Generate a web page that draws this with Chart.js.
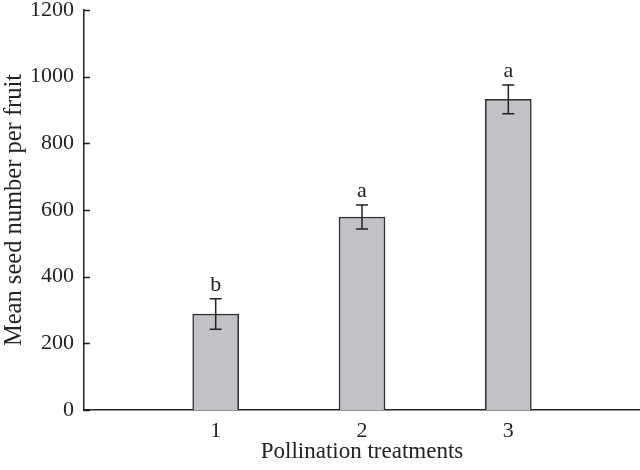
<!DOCTYPE html>
<html>
<head>
<meta charset="utf-8">
<script src="https://cdn.jsdelivr.net/npm/chart.js@4/dist/chart.umd.min.js"></script>
<style>
  html, body { margin: 0; padding: 0; background: #fff; }
  #wrap { width: 640px; height: 470px; }
</style>
</head>
<body>
<div id="wrap"><canvas id="c" width="640" height="470"></canvas></div>
<script>
const categories = [1, 2, 3];
const means = [288, 579, 932];
const errors = [46, 36, 43];
const letters = ['b', 'a', 'a'];
const yTicks = [0, 200, 400, 600, 800, 1000, 1200];

const FONT = "'Liberation Serif', 'Times New Roman', serif";
const INK = '#222222';

const overlay = {
  id: 'overlay',
  afterDatasetsDraw(chart) {
    const ctx = chart.ctx;
    const xs = chart.scales.x, ys = chart.scales.y;
    ctx.save();
    ctx.strokeStyle = INK;
    ctx.lineWidth = 1.5;
    ctx.fillStyle = INK;
    ctx.font = '22px ' + FONT;
    ctx.textAlign = 'center';
    ctx.textBaseline = 'alphabetic';
    categories.forEach((c, i) => {
      const x = xs.getPixelForValue(c);
      const yt = ys.getPixelForValue(means[i] + errors[i]);
      const yb = ys.getPixelForValue(means[i] - errors[i]);
      ctx.beginPath();
      ctx.moveTo(x, yt); ctx.lineTo(x, yb);
      ctx.moveTo(x - 6, yt); ctx.lineTo(x + 6, yt);
      ctx.moveTo(x - 6, yb); ctx.lineTo(x + 6, yb);
      ctx.stroke();
      ctx.fillText(letters[i], x, yt - 8);
    });
    // inward y ticks
    const ax = ys.right;
    ctx.beginPath();
    yTicks.forEach(v => {
      const y = Math.round(ys.getPixelForValue(v)) + 0.5;
      ctx.moveTo(ax, y); ctx.lineTo(ax + 6, y);
    });
    ctx.stroke();
    ctx.restore();
  }
};

new Chart(document.getElementById('c'), {
  type: 'bar',
  data: {
    datasets: [{
      data: categories.map((c, i) => ({ x: c, y: means[i] })),
      backgroundColor: '#c2c2c6',
      borderColor: '#2e2e2e',
      borderWidth: 1.5,
      barThickness: 46
    }]
  },
  options: {
    responsive: false,
    animation: false,
    devicePixelRatio: 1,
    layout: { padding: { top: 10, right: 0, left: 0, bottom: 0 } },
    plugins: { legend: { display: false }, tooltip: { enabled: false } },
    scales: {
      x: {
        type: 'linear',
        offset: false,
        min: 0.1,
        max: 3.9,
        afterBuildTicks: (s) => { s.ticks = categories.map(v => ({ value: v })); },
        afterFit: (s) => { s.height = 60; s.paddingLeft = 0; s.paddingRight = 0; },
        grid: { display: false, drawTicks: false, offset: false },
        border: { display: true, color: INK, width: 1.5 },
        ticks: { color: INK, font: { family: FONT, size: 22 }, padding: 8,
                 callback: (v) => String(v) },
        title: { display: true, text: 'Pollination treatments', color: INK,
                 font: { family: FONT, size: 23 }, padding: { top: 0, bottom: 4 } }
      },
      y: {
        min: 0,
        max: 1200,
        afterBuildTicks: (s) => { s.ticks = yTicks.map(v => ({ value: v })); },
        afterFit: (s) => { s.width = 84; s.paddingTop = 0; s.paddingBottom = 0; },
        grid: { display: false, drawTicks: false },
        border: { display: true, color: INK, width: 1.5 },
        ticks: { color: INK, font: { family: FONT, size: 22 }, padding: 10,
                 callback: (v) => String(v) },
        title: { display: true, text: 'Mean seed number per fruit', color: INK,
                 font: { family: FONT, size: 24.5 }, padding: { top: 0, bottom: 0 } }
      }
    }
  },
  plugins: [overlay]
});
</script>
</body>
</html>
